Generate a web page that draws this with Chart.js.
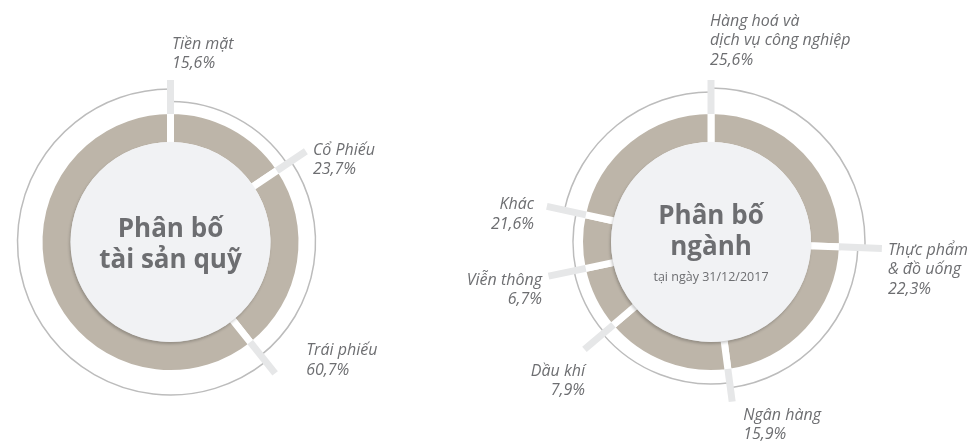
<!DOCTYPE html>
<html lang="vi">
<head>
<meta charset="utf-8">
<title>Phân bố tài sản quỹ / Phân bố ngành</title>
<script src="https://cdn.jsdelivr.net/npm/chart.js@4.4.1/dist/chart.umd.min.js"></script>
<style>
  html, body { margin: 0; padding: 0; background: #ffffff; }
  #wrap { position: relative; width: 971px; height: 442px; overflow: hidden; }
  canvas { position: absolute; top: 0; left: 0; }
</style>
</head>
<body>
<div id="wrap">
  <canvas id="fund" width="971" height="442"></canvas>
  <canvas id="sector" width="971" height="442"></canvas>
</div>
<script>
// Dữ liệu
const fundLabels = [["Tiền mặt"], ["Cổ Phiếu"], ["Trái phiếu"]];
const fundValues = [15.6, 23.7, 60.7];
const fundTitle = ["Phân bố", "tài sản quỹ"];

const sectorLabels = [
  ["Hàng hoá và", "dịch vụ công nghiệp"],
  ["Thực phẩm", "& đồ uống"],
  ["Ngân hàng"],
  ["Dầu khí"],
  ["Viễn thông"],
  ["Khác"],
];
const sectorValues = [25.6, 22.3, 15.9, 7.9, 6.7, 21.6];
const sectorTitle = ["Phân bố", "ngành"];
const sectorSubtitle = "tại ngày 31/12/2017";

// Style
const brown = "#bdb5a9";
const gapWidth = 7;
const textColor = "#6d6e71";

function pct(v) {
  return v.toFixed(1).replace(".", ",") + "%";
}

// vẽ vòng ngoài, vạch chia, hình tròn giữa và nhãn
const decor = {
  id: "decor",
  beforeDatasetsDraw(chart, args, opts) {
    const ctx = chart.ctx;
    const arcs = chart.getDatasetMeta(0).data;
    ctx.save();
    ctx.strokeStyle = "#bcbcbc";
    ctx.lineWidth = 1.5;
    arcs.forEach((arc, i) => {
      ctx.beginPath();
      ctx.arc(arc.x, arc.y, opts.ringRadius[i], arc.startAngle, arc.endAngle);
      ctx.stroke();
    });
    ctx.restore();
  },
  afterDatasetsDraw(chart, args, opts) {
    const ctx = chart.ctx;
    const arcs = chart.getDatasetMeta(0).data;
    const values = chart.data.datasets[0].data;
    const cx = arcs[0].x;
    const cy = arcs[0].y;
    ctx.save();

    // vạch chia
    ctx.strokeStyle = "#e6e7e8";
    ctx.lineWidth = gapWidth;
    ctx.lineCap = "butt";
    arcs.forEach((arc, i) => {
      const a = arc.startAngle;
      const r0 = arc.outerRadius - gapWidth / 2;
      const r1 = opts.tickEnd[i];
      ctx.beginPath();
      ctx.moveTo(cx + Math.cos(a) * r0, cy + Math.sin(a) * r0);
      ctx.lineTo(cx + Math.cos(a) * r1, cy + Math.sin(a) * r1);
      ctx.stroke();
    });

    // hình tròn giữa
    const rIn = arcs[0].innerRadius + gapWidth / 2;
    ctx.save();
    ctx.shadowColor = "rgba(0,0,0,0.22)";
    ctx.shadowBlur = 3;
    ctx.shadowOffsetX = -1;
    ctx.shadowOffsetY = 2;
    ctx.fillStyle = "#f1f2f4";
    ctx.beginPath();
    ctx.arc(cx, cy, rIn, 0, Math.PI * 2);
    ctx.fill();
    ctx.restore();

    // tiêu đề
    ctx.fillStyle = textColor;
    ctx.textAlign = "center";
    ctx.textBaseline = "alphabetic";
    ctx.font = "bold 26px 'Open Sans'";
    opts.title.forEach((line, j) => {
      ctx.fillText(line, cx, cy + opts.titleTop + j * 30.5);
    });
    if (opts.subtitle) {
      ctx.font = "12.5px 'Open Sans'";
      ctx.fillText(opts.subtitle, cx, cy + opts.subtitleTop);
    }

    // nhãn
    ctx.font = "italic 16px 'Open Sans'";
    ctx.textBaseline = "middle";
    arcs.forEach((arc, i) => {
      const a = arc.startAngle;
      const r1 = opts.tickEnd[i];
      const ex = cx + Math.cos(a) * r1;
      const ey = cy + Math.sin(a) * r1;
      const p = opts.labelPos[i];
      const lines = opts.labels[i].concat([pct(values[i])]);
      ctx.textAlign = p.align;
      lines.forEach((line, j) => {
        ctx.fillText(line, ex + p.dx, ey + p.dy + j * 19.7);
      });
    });
    ctx.restore();
  },
};

function makeDonut(id, labels, values, padding, decorOpts) {
  return new Chart(document.getElementById(id), {
    type: "doughnut",
    data: {
      labels: labels.map((l) => l.join(" ")),
      datasets: [
        {
          data: values,
          backgroundColor: brown,
          borderColor: "#ffffff",
          borderWidth: gapWidth,
          hoverOffset: 0,
        },
      ],
    },
    options: {
      responsive: false,
      animation: false,
      events: [],
      radius: 128 + gapWidth / 2,
      cutout: ((100 - gapWidth / 2) / (128 + gapWidth / 2)) * 100 + "%",
      layout: { padding: padding },
      plugins: {
        legend: { display: false },
        tooltip: { enabled: false },
        decor: Object.assign({ labels: labels }, decorOpts),
      },
    },
    plugins: [decor],
  });
}

makeDonut("fund", fundLabels, fundValues, { left: 0, right: 630, top: 42, bottom: 0 }, {
  title: fundTitle,
  titleTop: -5,
  ringRadius: [140.5, 145, 153],
  tickEnd: [162, 163, 168],
  labelPos: [
    { dx: 1.5, dy: -36, align: "left" },
    { dx: 7, dy: -1, align: "left" },
    { dx: 31, dy: -23, align: "left" },
  ],
});

makeDonut("sector", sectorLabels, sectorValues, { left: 451, right: 0, top: 42, bottom: 0 }, {
  title: sectorTitle,
  titleTop: -18,
  subtitle: sectorSubtitle,
  subtitleTop: 39,
  ringRadius: [154, 147, 142, 140, 138, 150],
  tickEnd: [162, 171, 161, 166, 166, 168],
  labelPos: [
    { dx: -1, dy: -59, align: "left" },
    { dx: 6, dy: 1.6, align: "left" },
    { dx: 11, dy: 13.4, align: "left" },
    { dx: 0.6, dy: 21.6, align: "right" },
    { dx: -6.6, dy: 3.8, align: "right" },
    { dx: -12.8, dy: -1.9, align: "right" },
  ],
});
</script>
</body>
</html>
